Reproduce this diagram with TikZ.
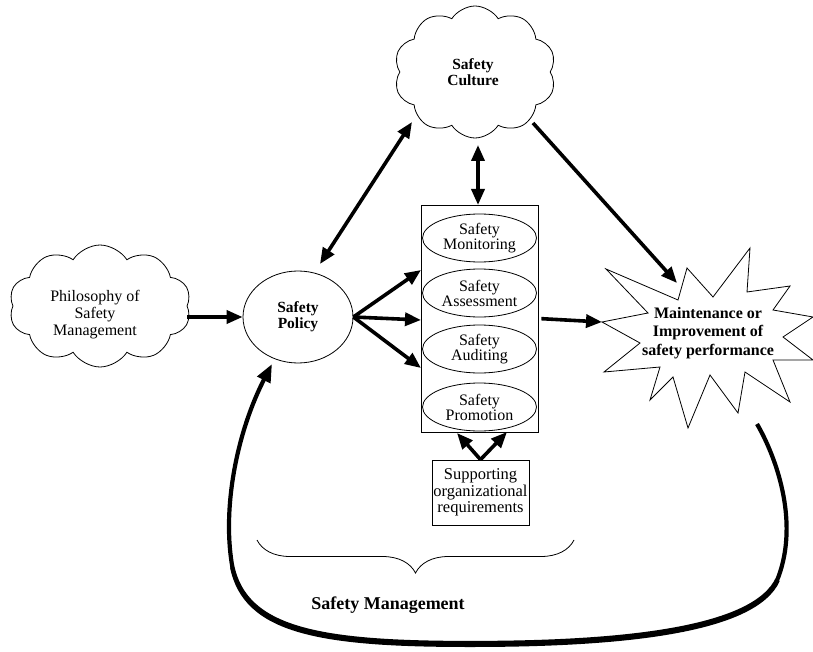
\documentclass[tikz,border=0pt]{standalone}
\usepackage{fontspec}
\setmainfont{Liberation Serif}
\usetikzlibrary{shapes.symbols,shapes.geometric,arrows.meta,decorations.pathreplacing}
\begin{document}
\begin{tikzpicture}[x=1pt,y=-1pt,
 txt/.style={font=\fontsize{16}{16}\selectfont, align=center},
 bold/.style={font=\fontsize{15.5}{16}\selectfont\bfseries, align=center},
 thin/.style={line width=0.8pt},
 cloudy/.style={cloud, cloud puffs=10, cloud puff arc=115, cloud ignores aspect, draw, thin, inner sep=0pt},
 oval/.style={ellipse, draw, thin, inner sep=0pt},
 fat/.style={line width=3.6pt, -{Triangle[length=16pt,width=13pt]}},
 fatboth/.style={line width=3.6pt, {Triangle[length=16pt,width=13pt]}-{Triangle[length=16pt,width=13pt]}},
]
\useasboundingbox (0,0) rectangle (813,652);

% clouds
\node[cloudy, minimum width=162pt, minimum height=132pt] (culture) at (475,72) {};
\node[bold] (culturetext) at (473,72) {Safety\\Culture};
\node[cloudy, minimum width=182pt, minimum height=122pt] (philo) at (100,306) {};
\node[txt, font=\fontsize{16}{17}\selectfont] (philotext) at (95,315) {Philosophy of\\Safety\\Management};

% safety policy
\node[oval, minimum width=110pt, minimum height=92pt, bold] (policy) at (298,317) {Safety\\Policy};

% central box
\node[draw, thin, minimum width=117pt, minimum height=227pt] (box) at (479.5,318.5) {};
\node[oval, minimum width=114pt, minimum height=48pt, txt, font=\fontsize{16}{15}\selectfont] (mon) at (479.5,238) {Safety\\Monitoring};
\node[oval, minimum width=114pt, minimum height=48pt, txt, font=\fontsize{16}{15}\selectfont] (ass) at (479.5,293) {Safety\\Assessment};
\node[oval, minimum width=114pt, minimum height=48pt, txt, font=\fontsize{16}{15}\selectfont] (aud) at (479.5,349) {Safety\\Auditing};
\node[oval, minimum width=114pt, minimum height=48pt, txt, font=\fontsize{16}{15}\selectfont] (pro) at (479.5,407) {Safety\\Promotion};

% supporting box
\node[draw, thin, minimum width=97pt, minimum height=65pt, inner sep=0.5pt, txt, font=\fontsize{16.5}{16.5}\selectfont] (sup) at (480.5,492.5) {Supporting\\organizational\\requirements};

% star
\coordinate (starL) at (602,322);
\coordinate (starUL) at (677,283);
\coordinate (starB) at (757,424);
\draw[thin, fill=white] (starL) -- (648,313) -- (606,269) -- (678,300) -- (687,268) -- (713,297)
  -- (750,248) -- (747,292) -- (790,286) -- (773,310) -- (813,317) -- (783,337) -- (813,360)
  -- (773,360) -- (790,402) -- (745,372) -- (738,413) -- (710,375) -- (688,428) -- (673,377)
  -- (650,400) -- (660,367) -- (604,372) -- (640,343) -- cycle;
\node[align=center, font=\fontsize{16}{18.5}\selectfont\bfseries] (perf) at (708,333) {Maintenance or\\Improvement of\\safety performance};

% named connector ends
\coordinate (b1) at (421,270);
\coordinate (b2) at (421,320);
\coordinate (b3) at (421,368);
\coordinate (s1) at (457,433);
\coordinate (s2) at (507,432);
\coordinate (cu1) at (412,122);
\coordinate (po1) at (320,264);
\coordinate (cu2) at (478,145);
\coordinate (bx1) at (478,205);
\coordinate (cu3) at (533,123);
\coordinate (looptip) at (272,364);

% arrows
\draw[fat] (philo.east |- policy.west) -- (policy.west);
\draw[fat] (policy.east) -- (b1);
\draw[fat] (policy.east) -- (b2);
\draw[fat] (policy.east) -- (b3);
\draw[fat, shorten <=3pt] (box.east) -- (starL);
\draw[fatboth] (cu1) -- (po1);
\draw[fatboth] (cu2) -- (bx1);
\draw[fat] (cu3) -- (starUL);
\draw[fat] (sup.north) -- (s1);
\draw[fat] (sup.north) -- (s2);

% feedback loop (thicker at the bottom)
\draw[line width=4.2pt, -{Triangle[length=18pt,width=14pt]}] (starB)
  .. controls (775,455) and (800,520) .. (778,578)
  .. controls (755,630) and (620,643) .. (470,643)
  .. controls (320,643) and (245,630) .. (232,565)
  .. controls (222,505) and (238,430) .. (looptip);
\draw[line width=4pt, yshift=-2pt] (778,578)
  .. controls (755,630) and (620,643) .. (470,643)
  .. controls (320,643) and (245,630) .. (232,565);

% brace
\draw[thin, decorate, decoration={brace, mirror, amplitude=33pt}] (257,540) -- (574,540);
\node[font=\fontsize{18}{20}\selectfont\bfseries] (sm) at (388,605) {Safety Management};
\end{tikzpicture}
\end{document}
